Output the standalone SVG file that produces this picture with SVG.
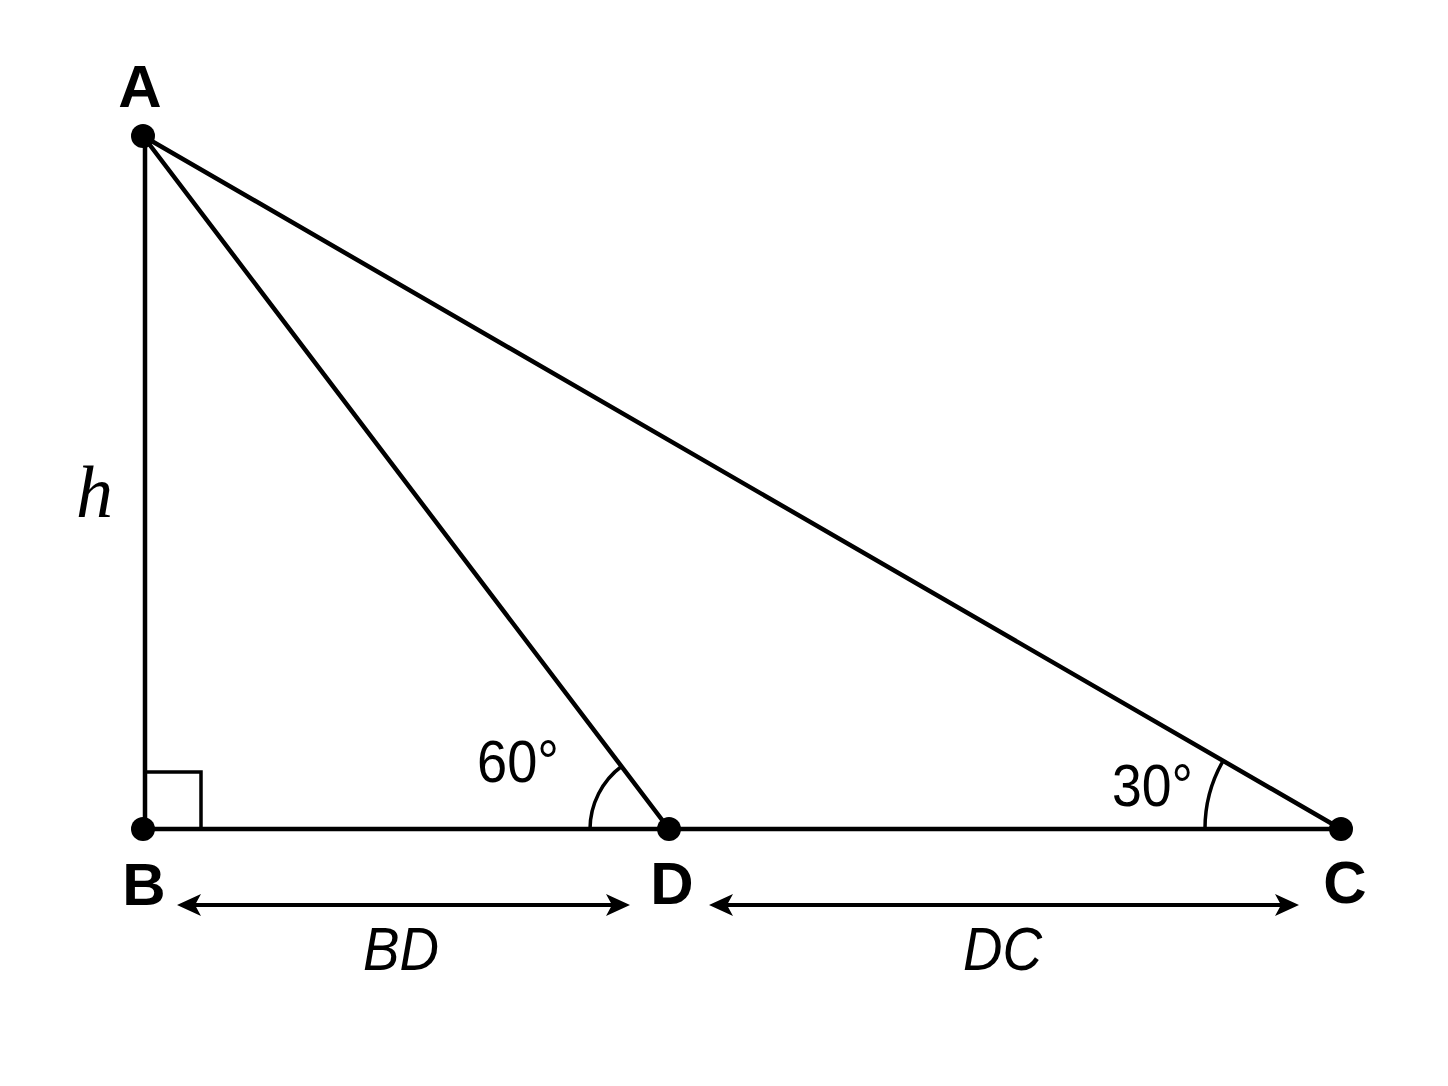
<svg xmlns="http://www.w3.org/2000/svg" xmlns:xlink="http://www.w3.org/1999/xlink" width="1448" height="1086" viewBox="0 0 1448 1086">
<style>
.ln{stroke:#000;stroke-width:4.5;fill:none;stroke-linecap:round}
.thin{stroke:#000;stroke-width:3.5;fill:none}
.arr{stroke:#000;stroke-width:4;fill:none}
.dot{fill:#000}
.lbl{font-family:"Liberation Sans",Arial,sans-serif;font-weight:bold;font-size:60px;fill:#000;text-anchor:middle}
.ang{font-family:"Liberation Sans",Arial,sans-serif;font-size:60px;fill:#000}
.it{font-family:"Liberation Sans",Arial,sans-serif;font-style:italic;font-size:61px;fill:#000}
.h{font-family:"Liberation Serif","Times New Roman",serif;font-style:italic;font-size:74px;fill:#000}
</style>
<defs>
<path id="head" d="M0,0 L-24,-11 L-18,0 L-24,11 z" fill="#000"/>
</defs>
<rect width="1448" height="1086" fill="#fff"/>
<g id="connectors">
<line class="ln" x1="145" y1="136" x2="145" y2="829"/>
<line class="ln" x1="143" y1="829" x2="1341" y2="829"/>
<line class="ln" x1="143" y1="136" x2="669" y2="829"/>
<line class="ln" x1="143" y1="136" x2="1341" y2="829"/>
<line class="arr" x1="185" y1="905" x2="622" y2="905"/>
<use xlink:href="#head" href="#head" transform="translate(630,905)"/>
<use xlink:href="#head" href="#head" transform="translate(177,905) rotate(180)"/>
<line class="arr" x1="717" y1="905" x2="1291" y2="905"/>
<use xlink:href="#head" href="#head" transform="translate(1299,905)"/>
<use xlink:href="#head" href="#head" transform="translate(709,905) rotate(180)"/>
</g>
<g id="right-angle">
<polyline class="thin" points="145,772 201,772 201,829"/>
</g>
<g id="angle-D">
<path class="thin" d="M590,829 A79,79 0 0 1 622,766"/>
<text class="ang" x="477" y="782" textLength="82" lengthAdjust="spacingAndGlyphs">60°</text>
</g>
<g id="angle-C">
<path class="thin" d="M1205,829 A136,136 0 0 1 1223,761"/>
<text class="ang" x="1112" y="806" textLength="81" lengthAdjust="spacingAndGlyphs">30°</text>
</g>
<g id="A">
<circle class="dot" cx="143" cy="136" r="12"/>
<text class="lbl" x="140" y="107">A</text>
</g>
<g id="B">
<circle class="dot" cx="143" cy="829" r="12"/>
<text class="lbl" x="144" y="905">B</text>
</g>
<g id="D">
<circle class="dot" cx="669" cy="829" r="12"/>
<text class="lbl" x="672" y="904">D</text>
</g>
<g id="C">
<circle class="dot" cx="1341" cy="829" r="12"/>
<text class="lbl" x="1345" y="903">C</text>
</g>
<g id="h-label">
<text class="h" x="76" y="517">h</text>
</g>
<g id="BD-label">
<text class="it" x="363" y="970" textLength="76" lengthAdjust="spacingAndGlyphs">BD</text>
</g>
<g id="DC-label">
<text class="it" x="963" y="970" textLength="79" lengthAdjust="spacingAndGlyphs">DC</text>
</g>
</svg>
